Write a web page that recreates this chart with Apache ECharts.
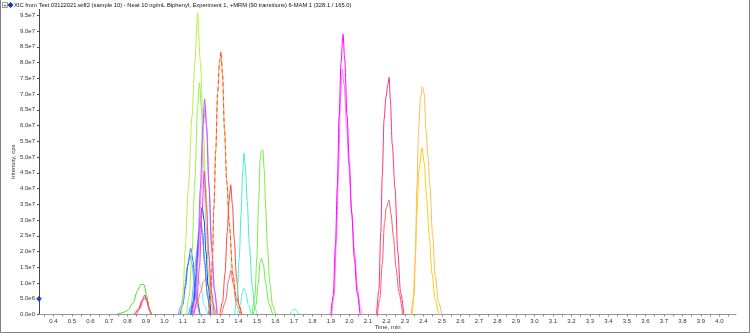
<!DOCTYPE html>
<html>
<head>
<meta charset="utf-8">
<script src="https://cdn.jsdelivr.net/npm/echarts@6/dist/echarts.min.js"></script>
<style>
html,body{margin:0;padding:0;background:#fff;}
#chart{width:750px;height:333px;}
</style>
</head>
<body>
<div id="chart"></div>
<script>
// ---- axis ticks (time in min, intensity in units of 1e7 cps) ----
const xTicks = [0.4,0.5,0.6,0.7,0.8,0.9,1.0,1.1,1.2,1.3,1.4,1.5,1.6,1.7,1.8,1.9,2.0,2.1,2.2,2.3,2.4,2.5,2.6,2.7,2.8,2.9,3.0,3.1,3.2,3.3,3.4,3.5,3.6,3.7,3.8,3.9,4.0];
const xMinorTicks = [0.35,0.4,0.45,0.5,0.55,0.6,0.65,0.7,0.75,0.8,0.85,0.9,0.95,1.0,1.05,1.1,1.15,1.2,1.25,1.3,1.35,1.4,1.45,1.5,1.55,1.6,1.65,1.7,1.75,1.8,1.85,1.9,1.95,2.0,2.05,2.1,2.15,2.2,2.25,2.3,2.35,2.4,2.45,2.5,2.55,2.6,2.65,2.7,2.75,2.8,2.85,2.9,2.95,3.0,3.05,3.1,3.15,3.2,3.25,3.3,3.35,3.4,3.45,3.5,3.55,3.6,3.65,3.7,3.75,3.8,3.85,3.9,3.95,4.0,4.05];
const yTicks = [0,0.5,1.0,1.5,2.0,2.5,3.0,3.5,4.0,4.5,5.0,5.5,6.0,6.5,7.0,7.5,8.0,8.5,9.0,9.5];

// ---- traces: [time (min), intensity (1e7 cps)] ----
const t_g09  = [[0.74,0],[0.77,0.05],[0.80,0.12],[0.83,0.35],[0.855,0.75],[0.872,0.95],[0.89,0.95],[0.905,0.6],[0.918,0.2],[0.93,0]];
const t_g09b = [[0.83,0],[0.86,0.2],[0.88,0.45],[0.895,0.52],[0.91,0.35],[0.925,0.05],[0.935,0]];
const t_p09  = [[0.84,0],[0.86,0.15],[0.88,0.45],[0.895,0.62],[0.905,0.45],[0.918,0.15],[0.93,0]];
const t_r09  = [[0.85,0],[0.87,0.2],[0.885,0.45],[0.9,0.55],[0.91,0.4],[0.92,0.15],[0.93,0]];

const t_b3   = [[1.085,0],[1.1,0.3],[1.115,0.9],[1.128,1.6],[1.143,2.10],[1.155,1.7],[1.167,1.0],[1.18,0.4],[1.193,0]];
const t_b4   = [[1.075,0],[1.092,0.3],[1.108,0.8],[1.124,1.5],[1.139,1.89],[1.15,1.6],[1.163,0.9],[1.177,0.3],[1.19,0]];
const t_c2   = [[1.13,0],[1.15,0.3],[1.168,0.8],[1.184,1.15],[1.198,0.85],[1.215,0.3],[1.235,0]];
const t_c1   = [[1.13,0],[1.145,0.3],[1.16,1.0],[1.173,1.9],[1.185,2.6],[1.195,2.84],[1.205,2.5],[1.218,1.6],[1.232,0.6],[1.248,0]];
const t_b2   = [[1.14,0],[1.155,0.4],[1.168,1.1],[1.18,2.1],[1.19,2.7],[1.197,2.95],[1.207,2.6],[1.218,1.7],[1.232,0.7],[1.245,0]];
const t_b1   = [[1.145,0],[1.16,0.4],[1.172,1.2],[1.185,2.3],[1.195,3.1],[1.205,3.40],[1.215,3.0],[1.225,2.0],[1.237,0.9],[1.252,0]];
const t_or3  = [[1.155,0],[1.175,0.25],[1.195,0.7],[1.212,1.05],[1.225,1.15],[1.24,0.9],[1.258,0.4],[1.28,0]];
const t_yg   = [[1.092,0],[1.10,0.4],[1.112,2.0],[1.13,4.0],[1.15,6.3],[1.165,8.0],[1.18,9.58],[1.195,8.0],[1.21,6.0],[1.225,4.0],[1.241,2.0],[1.252,0.7],[1.262,0]];
const t_g12  = [[1.12,0],[1.135,0.6],[1.15,2.0],[1.165,4.3],[1.18,6.6],[1.19,7.35],[1.2,6.6],[1.212,4.8],[1.225,2.9],[1.24,1.2],[1.255,0.3],[1.265,0]];
const t_pu2  = [[1.155,0],[1.17,0.5],[1.185,1.8],[1.2,4.0],[1.212,6.0],[1.221,6.6],[1.231,5.8],[1.243,4.0],[1.258,2.0],[1.273,0.7],[1.288,0]];
const t_pu   = [[1.15,0],[1.165,0.5],[1.18,1.8],[1.195,4.0],[1.208,6.0],[1.218,6.84],[1.228,6.0],[1.24,4.2],[1.255,2.2],[1.27,0.8],[1.285,0]];
const t_mg12 = [[1.16,0],[1.175,0.4],[1.19,1.5],[1.203,3.2],[1.216,4.55],[1.228,3.4],[1.24,1.9],[1.255,0.7],[1.27,0]];
const t_or   = [[1.24,0],[1.252,0.6],[1.26,1.8],[1.268,3.4],[1.278,5.2],[1.288,7.0],[1.298,8.0],[1.306,8.34],[1.315,7.6],[1.325,5.9],[1.338,4.2],[1.351,2.9],[1.37,1.3],[1.39,0.5],[1.418,0]];
const t_rd2  = [[1.31,0],[1.33,0.4],[1.348,1.1],[1.36,1.4],[1.372,1.0],[1.39,0.3],[1.41,0]];
const t_rd   = [[1.30,0],[1.315,0.4],[1.328,1.3],[1.34,2.6],[1.35,3.6],[1.359,4.12],[1.368,3.5],[1.378,2.4],[1.39,1.2],[1.403,0.3],[1.418,0]];
const t_aq2  = [[1.395,0],[1.41,0.3],[1.422,0.7],[1.431,0.83],[1.44,0.7],[1.455,0.3],[1.47,0]];
const t_aq   = [[1.38,0],[1.393,0.5],[1.405,1.8],[1.415,3.2],[1.424,4.6],[1.431,5.12],[1.438,4.7],[1.448,3.6],[1.46,2.2],[1.475,0.9],[1.49,0.2],[1.502,0]];
const t_g15b = [[1.48,0],[1.495,0.3],[1.508,1.0],[1.518,1.65],[1.525,1.78],[1.535,1.6],[1.548,1.0],[1.565,0.35],[1.585,0]];
const t_g15  = [[1.475,0],[1.49,0.6],[1.5,1.8],[1.51,3.6],[1.518,4.9],[1.525,5.22],[1.533,5.22],[1.54,4.6],[1.548,3.4],[1.558,2.1],[1.57,1.0],[1.585,0.3],[1.6,0]];
const t_aq3  = [[1.68,0],[1.69,0.1],[1.7,0.17],[1.71,0.16],[1.72,0.08],[1.73,0]];

const t_m2   = [[1.905,0],[1.918,0.6],[1.93,2.3],[1.942,4.6],[1.953,6.9],[1.962,7.8],[1.972,7.3],[1.985,6.0],[1.998,4.7],[2.012,3.3],[2.028,2.0],[2.045,0.8],[2.06,0.2],[2.07,0]];
const t_m1   = [[1.90,0],[1.913,0.6],[1.925,2.2],[1.935,4.06],[1.945,6.3],[1.955,8.0],[1.966,8.9],[1.975,8.1],[1.988,6.3],[2.0,4.8],[2.013,3.2],[2.027,1.8],[2.042,0.7],[2.058,0]];
const t_r2   = [[2.152,0],[2.165,0.5],[2.178,1.6],[2.19,2.9],[2.2,3.4],[2.215,3.63],[2.225,3.2],[2.238,2.5],[2.252,1.5],[2.268,0.7],[2.288,0]];
const t_r1   = [[2.147,0],[2.16,0.8],[2.17,2.6],[2.178,4.4],[2.188,6.2],[2.198,6.9],[2.208,7.3],[2.215,7.53],[2.222,6.8],[2.232,5.4],[2.247,4.0],[2.262,2.0],[2.277,0.7],[2.295,0]];
const t_y2   = [[2.335,0],[2.345,0.5],[2.355,1.6],[2.365,3.2],[2.377,4.6],[2.393,5.3],[2.405,4.8],[2.418,3.7],[2.432,2.5],[2.447,1.3],[2.463,0.5],[2.482,0]];
const t_y1   = [[2.34,0],[2.35,0.6],[2.358,2.0],[2.365,4.06],[2.375,5.9],[2.385,6.9],[2.395,7.23],[2.405,7.0],[2.415,5.8],[2.425,5.0],[2.436,4.06],[2.45,2.5],[2.465,1.2],[2.482,0.4],[2.5,0]];

const cursorPoint = [[0.3227,0.5]];

// ---- styles ----
const traces = [
  [t_g09,'#44dd22'],[t_g09b,'#88ee66'],[t_p09,'#ff2299'],[t_r09,'#ff5566'],
  [t_b4,'#66aaff'],[t_b3,'#3366ff'],[t_c2,'#66eeff'],[t_c1,'#44ccff'],
  [t_or3,'#ff8833'],[t_b2,'#4477ff'],[t_b1,'#2233ee'],
  [t_yg,'#bbee44'],[t_g12,'#99ee55'],[t_pu2,'#dd99ff'],[t_pu,'#bb55ff'],[t_mg12,'#ff33dd'],
  [t_or,'#ffa070'],
  [t_rd2,'#ff6666'],[t_rd,'#ff4444'],[t_aq2,'#55eedd'],[t_aq,'#44eecc'],
  [t_g15b,'#66ee44'],[t_g15,'#77ee44'],[t_aq3,'#55eecc'],
  [t_m2,'#ff77ff'],[t_m1,'#ff00ff'],[t_r2,'#ff5566'],[t_r1,'#ff3377'],
  [t_y2,'#ffcc11'],[t_y1,'#ffbb55']
];

const series = traces.map(([d,c]) => ({
  type:'line', data:d, showSymbol:false, smooth:0.3, smoothMonotone:'x',
  lineStyle:{color:c, width:1}, silent:true, animation:false, z:2
}));
// dashed overlay on orange trace
series.push({type:'line', data:t_or, showSymbol:false, smooth:0.3, smoothMonotone:'x',
  lineStyle:{color:'#ff5500', width:1, type:[4,3]}, silent:true, animation:false, z:3});
series.push({type:'scatter', data:cursorPoint, symbol:'diamond', symbolSize:6,
  itemStyle:{color:'#1030d0'}, silent:true, animation:false, z:5, clip:false});

function yFmt(v){
  if (v === 0) return '0.0e0';
  const raw = v*1e7;
  const e = Math.floor(Math.log10(raw)+1e-9);
  return (raw/Math.pow(10,e)).toFixed(1)+'e'+e;
}

const chart = echarts.init(document.getElementById('chart'));
chart.setOption({
  animation:false,
  backgroundColor:'#fff',
  textStyle:{fontFamily:'Liberation Sans, Arial, sans-serif'},
  grid:{left:39, right:14, top:9, bottom:18.5, containLabel:false, outerBoundsMode:'none'},
  xAxis:{
    type:'value', min:0.3227, max:4.09,
    name:'Time, min', nameLocation:'middle', nameGap:9.5, nameMoveOverlap:false,
    nameTextStyle:{fontSize:6, color:'#333'},
    axisLine:{show:true, lineStyle:{color:'#999', width:1}},
    axisTick:{show:true, customValues:xMinorTicks, length:2, lineStyle:{color:'#888'}},
    axisLabel:{customValues:xTicks, formatter:v=>v.toFixed(1), fontSize:6, color:'#333', margin:4},
    splitLine:{show:false}
  },
  yAxis:{
    type:'value', min:0, max:9.7,
    name:'Intensity, cps', nameLocation:'middle', nameGap:23, nameMoveOverlap:false,
    nameTextStyle:{fontSize:6, color:'#333'},
    axisLine:{show:true, lineStyle:{color:'#333', width:1, type:'dotted'}},
    axisTick:{show:true, customValues:yTicks, length:2, lineStyle:{color:'#555'}},
    axisLabel:{customValues:yTicks, formatter:yFmt, fontSize:6, color:'#333', margin:4},
    splitLine:{show:false}
  },
  graphic:[
    {type:'polyline', shape:{points:[[0.5,0],[0.5,332.5],[749.5,332.5],[749.5,0]]}, style:{fill:null, stroke:'#808080', lineWidth:1}, silent:true},
    {type:'rect', shape:{x:2.5,y:2.5,width:5,height:5}, style:{fill:'#fff', stroke:'#999', lineWidth:1}, silent:true},
    {type:'text', x:5, y:5, style:{text:'+', fontSize:6, fill:'#333', align:'center', verticalAlign:'middle'}, silent:true},
    {type:'polygon', shape:{points:[[10.5,2],[13.5,5],[10.5,8],[7.5,5]]}, style:{fill:'#1030d0'}, silent:true},
    {type:'text', x:14, y:5, style:{text:'XIC from Test 03122021.wiff2 (sample 10) - Neat 10 ng/mL Biphenyl, Experiment 1, +MRM (90 transitions) 6-MAM 1 (328.1 / 165.0)', fontSize:5.8, fill:'#111', fontFamily:'Liberation Sans, Arial, sans-serif', verticalAlign:'middle'}, silent:true}
  ],
  series:series
});
</script>
</body>
</html>
